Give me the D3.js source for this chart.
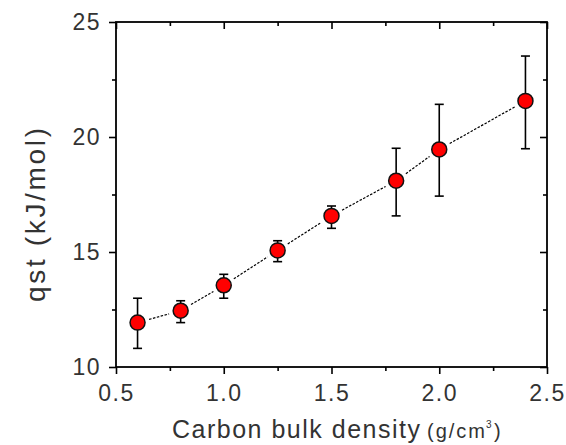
<!DOCTYPE html>
<html><head><meta charset="utf-8">
<script src="https://cdn.jsdelivr.net/npm/d3@7"></script>
<style>
html,body{margin:0;padding:0;background:#fff;}
svg{display:block;}
text{font-family:"Liberation Sans",Arial,sans-serif;fill:#333;}
</style></head>
<body>
<script>
const density = [0.6, 0.8, 1.0, 1.25, 1.5, 1.8, 2.0, 2.4];
const qst     = [11.93, 12.45, 13.55, 15.07, 16.57, 18.1, 19.46, 21.57];
const errLow  = [10.81, 11.93, 12.99, 14.58, 16.03, 16.57, 17.43, 19.49];
const errHigh = [12.99, 12.88, 14.03, 15.49, 17.0, 19.51, 21.42, 23.52];
const xTicks = [0.5, 1.0, 1.5, 2.0, 2.5];
const xMinor = [0.75, 1.25, 1.75, 2.25];
const yTicks = [10, 15, 20, 25];
const yMinor = [12.5, 17.5, 22.5];

const W = 566, H = 445;
const L = 116, R = 547, T = 22, B = 367;
const svg = d3.select("body").append("svg").attr("width", W).attr("height", H);
const x = d3.scaleLinear().domain([0.5, 2.5]).range([L, R]);
const y = d3.scaleLinear().domain([10, 25]).range([B, T]);

function styleAxis(g){
  g.select(".domain").remove();
  g.selectAll("line").attr("stroke","#000").attr("stroke-width",1.6);
}
const fmt = d3.format(".1f");
// bottom
svg.append("g").attr("transform",`translate(0,${B})`)
  .call(d3.axisBottom(x).tickValues(xTicks).tickFormat(fmt).tickSize(7).tickPadding(11))
  .call(styleAxis)
  .call(g=>g.selectAll("text").attr("font-size",23).attr("letter-spacing",1.5).attr("fill","#333"));
svg.append("g").attr("transform",`translate(0,${B})`)
  .call(d3.axisBottom(x).tickValues(xMinor).tickFormat("").tickSize(4)).call(styleAxis);
// top
svg.append("g").attr("transform",`translate(0,${T})`)
  .call(d3.axisBottom(x).tickValues(xTicks).tickFormat("").tickSize(7)).call(styleAxis);
svg.append("g").attr("transform",`translate(0,${T})`)
  .call(d3.axisBottom(x).tickValues(xMinor).tickFormat("").tickSize(4)).call(styleAxis);
// left
svg.append("g").attr("transform",`translate(${L},0)`)
  .call(d3.axisLeft(y).tickValues(yTicks).tickFormat(d3.format("d")).tickSize(7).tickPadding(8))
  .call(styleAxis)
  .call(g=>g.selectAll("text").attr("font-size",23).attr("letter-spacing",1.5).attr("fill","#333"));
svg.append("g").attr("transform",`translate(${L},0)`)
  .call(d3.axisLeft(y).tickValues(yMinor).tickFormat("").tickSize(4)).call(styleAxis);
// right
svg.append("g").attr("transform",`translate(${R},0)`)
  .call(d3.axisLeft(y).tickValues(yTicks).tickFormat("").tickSize(7)).call(styleAxis);
svg.append("g").attr("transform",`translate(${R},0)`)
  .call(d3.axisLeft(y).tickValues(yMinor).tickFormat("").tickSize(4)).call(styleAxis);

// frame
svg.append("rect").attr("x",L).attr("y",T).attr("width",R-L).attr("height",B-T)
  .attr("fill","none").attr("stroke","#000").attr("stroke-width",1.8);

const pts = density.map((d,i)=>({x:x(d), y:y(qst[i]), lo:y(errLow[i]), hi:y(errHigh[i])}));
// dashed connecting segments with gaps
const gap = 12;
for(let i=0;i<pts.length-1;i++){
  const a=pts[i], b=pts[i+1];
  const dx=b.x-a.x, dy=b.y-a.y, len=Math.hypot(dx,dy);
  const ux=dx/len, uy=dy/len;
  svg.append("line")
    .attr("x1",a.x+ux*gap).attr("y1",a.y+uy*gap)
    .attr("x2",b.x-ux*gap).attr("y2",b.y-uy*gap)
    .attr("stroke","#000").attr("stroke-width",1.2).attr("stroke-dasharray","2.5,1.5");
}
// error bars
const cap = 4.5;
const eb = svg.append("g").attr("stroke","#000").attr("stroke-width",1.6);
pts.forEach(p=>{
  eb.append("line").attr("x1",p.x).attr("x2",p.x).attr("y1",p.hi).attr("y2",p.lo);
  eb.append("line").attr("x1",p.x-cap).attr("x2",p.x+cap).attr("y1",p.hi).attr("y2",p.hi);
  eb.append("line").attr("x1",p.x-cap).attr("x2",p.x+cap).attr("y1",p.lo).attr("y2",p.lo);
});
// markers
svg.append("g").selectAll("circle").data(pts).join("circle")
  .attr("cx",d=>d.x).attr("cy",d=>d.y).attr("r",7.5)
  .attr("fill","#ff0000").attr("stroke","#111").attr("stroke-width",1.5);

// axis titles
svg.append("text").attr("x",172).attr("y",438)
  .attr("font-size",25).attr("textLength",248).attr("lengthAdjust","spacing")
  .text("Carbon bulk density");
svg.append("text").attr("x",427).attr("y",438).attr("font-size",20)
  .attr("textLength",58).attr("lengthAdjust","spacing").text("(g/cm");
svg.append("text").attr("x",486).attr("y",428).attr("font-size",10).text("3");
svg.append("text").attr("x",494).attr("y",438).attr("font-size",20).text(")");

svg.append("text").attr("transform",`translate(45,215) rotate(-90)`)
  .attr("text-anchor","middle").attr("font-size",28)
  .attr("textLength",174).attr("lengthAdjust","spacing")
  .text("qst (kJ/mol)");
</script>
</body></html>
